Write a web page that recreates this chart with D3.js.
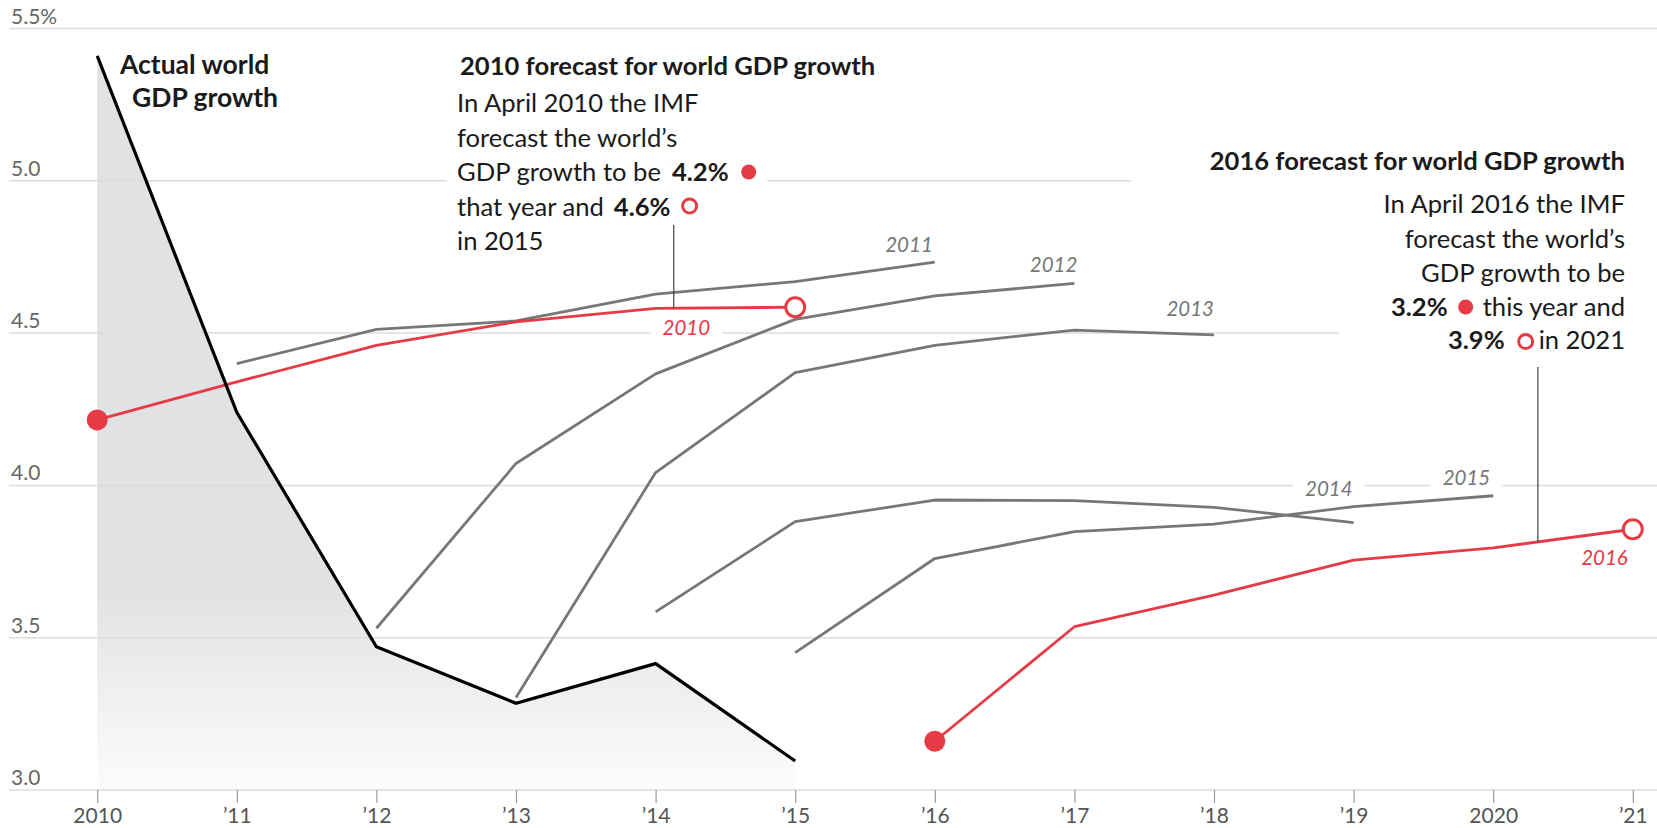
<!DOCTYPE html>
<html>
<head>
<meta charset="utf-8">
<script src="https://cdn.jsdelivr.net/npm/d3@7"></script>
<style>
  html, body { margin: 0; padding: 0; background: #fff; }
  svg { display: block; font-family: Lato, "Open Sans", sans-serif; }
</style>
</head>
<body>
<svg id="chart" width="1657" height="828"></svg>
<script>
// ---- data -------------------------------------------------------------
const years = [2010, 2011, 2012, 2013, 2014, 2015, 2016, 2017, 2018, 2019, 2020, 2021];
const yearTickLabels = ["2010", "\u201911", "\u201912", "\u201913", "\u201914", "\u201915",
                        "\u201916", "\u201917", "\u201918", "\u201919", "2020", "\u201921"];
const yTicks = [3.0, 3.5, 4.0, 4.5, 5.0, 5.5];
const yTickLabels = ["3.0", "3.5", "4.0", "4.5", "5.0", "5.5%"];

// Actual world GDP growth, %
const actualYears = [2010, 2011, 2012, 2013, 2014, 2015];
const actualGrowth = [5.41, 4.24, 3.47, 3.285, 3.415, 3.095];

// IMF April forecasts, one per vintage, each covering six years from its vintage year
const forecastVintages = [2010, 2011, 2012, 2013, 2014, 2015, 2016];
const forecast2010 = [4.215, 4.34, 4.46, 4.537, 4.581, 4.585];
const forecast2011 = [4.40, 4.512, 4.54, 4.628, 4.669, 4.733];
const forecast2012 = [3.531, 4.072, 4.366, 4.545, 4.622, 4.663];
const forecast2013 = [3.304, 4.042, 4.37, 4.46, 4.51, 4.494];
const forecast2014 = [3.585, 3.881, 3.952, 3.95, 3.928, 3.878];
const forecast2015 = [3.451, 3.76, 3.848, 3.873, 3.93, 3.966];
const forecast2016 = [3.16, 3.536, 3.64, 3.755, 3.795, 3.856];
const forecastValues = [forecast2010, forecast2011, forecast2012, forecast2013,
                        forecast2014, forecast2015, forecast2016];
const highlightedVintages = [2010, 2016];

// ---- layout -------------------------------------------------------------
const W = 1657, H = 828;
const RED = "#e63a45", GREY = "#777", INK = "#1a1a1a";
const x = d3.scaleLinear().domain([2010, 2021]).range([97.2, 1632.8]);
const y = d3.scaleLinear().domain([3, 5.5]).range([790, 28.5]);
const pct = v => d3.format(".1f")(v) + "%";

// horizontal extent of each gridline (pixel segments)
const gridSegments = {
  "5": [[9, 447], [767, 1131]],
  "4.5": [[9, 1339]]
};
// vintage label offsets from the last point of each line
const vintageLabelPos = {
  2011: { dx: -2, dy: -10, anchor: "end" },
  2012: { dx: 3, dy: -11, anchor: "end" },
  2013: { dx: 0, dy: -19, anchor: "end" },
  2014: { dx: -1, dy: -27, anchor: "end" },
  2015: { dx: -3, dy: -11, anchor: "end" },
  2016: { dx: -5, dy: 36, anchor: "end" }
};

const svg = d3.select("#chart");
svg.append("rect").attr("width", W).attr("height", H).attr("fill", "#fff");

const series = forecastVintages.map((v, i) => ({
  vintage: v,
  points: forecastValues[i].map((val, j) => ({ year: v + j, value: val }))
}));
const actual = actualYears.map((yr, i) => ({ year: yr, value: actualGrowth[i] }));

// ---- shaded area under actual growth ---------------------------------
const defs = svg.append("defs");
const grad = defs.append("linearGradient").attr("id", "actualFill")
  .attr("gradientUnits", "userSpaceOnUse")
  .attr("x1", 0).attr("x2", 0).attr("y1", y(3.65)).attr("y2", y(3.0));
grad.append("stop").attr("offset", 0).attr("stop-color", "#e1e2e4");
grad.append("stop").attr("offset", 1).attr("stop-color", "#fcfcfc");

svg.append("path").datum(actual)
  .attr("fill", "url(#actualFill)")
  .attr("d", d3.area().x(d => x(d.year)).y0(y(3)).y1(d => y(d.value)));

// ---- gridlines & y labels ---------------------------------------------
const grid = svg.append("g");
yTicks.forEach((t, i) => {
  const segs = gridSegments[String(t)] || [[9, W]];
  segs.forEach(s => {
    grid.append("line")
      .attr("x1", s[0]).attr("x2", s[1])
      .attr("y1", y(t)).attr("y2", y(t))
      .attr("stroke", "#dcdcdc").attr("stroke-width", 1.5);
  });
  grid.append("text")
    .attr("x", 11).attr("y", y(t) - 5)
    .attr("font-size", 21).attr("fill", "#666")
    .text(yTickLabels[i]);
});

// ---- x axis ---------------------------------------------------------------
const xAxis = svg.append("g").attr("transform", `translate(0,${y(3)})`)
  .call(d3.axisBottom(x).tickValues(years)
    .tickFormat((d, i) => yearTickLabels[i]).tickSize(13).tickPadding(5));
xAxis.select(".domain").remove();
xAxis.selectAll(".tick line").attr("stroke", "#999").attr("stroke-width", 1.2);
xAxis.selectAll(".tick text").attr("font-size", 21).attr("fill", "#555")
  .attr("font-family", "Lato, sans-serif");

// ---- vintage labels (white knockouts first, text later) -------------------
const labelLayer = [];
series.forEach(s => {
  const pos = vintageLabelPos[s.vintage];
  if (!pos) return;
  const last = s.points[s.points.length - 1];
  labelLayer.push({
    text: String(s.vintage),
    x: x(last.year) + pos.dx, y: y(last.value) + pos.dy, anchor: pos.anchor,
    color: highlightedVintages.includes(s.vintage) ? RED : GREY
  });
});
// the 2010 label sits below its line, next to the leader
{
  const s = series[0];
  const a = s.points[4], b = s.points[5];
  const yr = 2014.22;
  const v = a.value + (b.value - a.value) * (yr - a.year);
  labelLayer.push({ text: "2010", x: x(yr), y: y(v) + 27, anchor: "middle", color: RED });
}
const knockG = svg.append("g");
const labelG = svg.append("g");

// ---- forecast lines --------------------------------------------------------
const line = d3.line().x(d => x(d.year)).y(d => y(d.value));
const linesG = svg.append("g").attr("fill", "none").attr("stroke-linejoin", "round");
series.filter(s => !highlightedVintages.includes(s.vintage)).forEach(s => {
  linesG.append("path").datum(s.points).attr("d", line)
    .attr("stroke", GREY).attr("stroke-width", 2.8);
});
series.filter(s => highlightedVintages.includes(s.vintage)).forEach(s => {
  linesG.append("path").datum(s.points).attr("d", line)
    .attr("stroke", RED).attr("stroke-width", 2.8);
});
svg.append("path").datum(actual).attr("d", line)
  .attr("fill", "none").attr("stroke", "#000").attr("stroke-width", 3.2)
  .attr("stroke-linejoin", "miter");

// start (filled) and end (open) markers of highlighted forecasts
series.filter(s => highlightedVintages.includes(s.vintage)).forEach(s => {
  const first = s.points[0], last = s.points[s.points.length - 1];
  svg.append("circle").attr("cx", x(first.year)).attr("cy", y(first.value))
    .attr("r", 10.5).attr("fill", RED);
  svg.append("circle").attr("cx", x(last.year)).attr("cy", y(last.value))
    .attr("r", 9.5).attr("fill", "#fff").attr("stroke", RED).attr("stroke-width", 3);
});

labelLayer.forEach(l => {
  const t = labelG.append("text")
    .attr("x", l.x).attr("y", l.y).attr("text-anchor", l.anchor)
    .attr("font-size", 20.5).attr("font-style", "italic").attr("fill", l.color)
    .text(l.text);
  const bb = t.node().getBBox();
  knockG.append("rect").attr("x", bb.x - 12).attr("y", bb.y)
    .attr("width", bb.width + 24).attr("height", bb.height).attr("fill", "#fff");
});

// ---- annotations -------------------------------------------------------
const ann = svg.append("g").attr("fill", INK);
const BODY = 25.6, HEAD = 25.6;

function txt(g, xx, yy, s, opts = {}) {
  return g.append("text").attr("x", xx).attr("y", yy)
    .attr("font-size", opts.size || BODY)
    .attr("font-weight", opts.bold ? 700 : 400)
    .attr("text-anchor", opts.anchor || "start")
    .attr("fill", opts.color || INK)
    .text(s);
}
const width = node => node.node().getComputedTextLength();

// actual growth label
txt(ann, 120, 74, "Actual world", { bold: true, size: 26.5 });
txt(ann, 132, 107, "GDP growth", { bold: true, size: 26.5 });

// 2010 forecast block, left aligned
{
  const f = series[0].points;
  const X0 = 457;
  txt(ann, X0 + 3, 75, "2010 forecast for world GDP growth", { bold: true, size: HEAD });
  txt(ann, X0, 112, "In April 2010 the IMF");
  txt(ann, X0, 146.5, "forecast the world\u2019s");
  const l3 = txt(ann, X0, 181, "GDP growth to be");
  const b3x = X0 + width(l3) + 11;
  const b3 = txt(ann, b3x, 181, pct(f[0].value), { bold: true });
  ann.append("circle").attr("cx", b3x + width(b3) + 20).attr("cy", 172)
    .attr("r", 7.5).attr("fill", RED);
  const l4 = txt(ann, X0, 215.5, "that year and");
  const b4x = X0 + width(l4) + 10;
  const b4 = txt(ann, b4x, 215.5, pct(f[f.length - 1].value), { bold: true });
  ann.append("circle").attr("cx", b4x + width(b4) + 19).attr("cy", 206)
    .attr("r", 7).attr("fill", "#fff").attr("stroke", RED).attr("stroke-width", 3);
  txt(ann, X0, 250, "in 2015");

  // leader down to the forecast line
  const yr = 2014.13;
  const v = f[4].value + (f[5].value - f[4].value) * (yr - f[4].year);
  ann.append("line").attr("x1", x(yr)).attr("x2", x(yr))
    .attr("y1", 225).attr("y2", y(v))
    .attr("stroke", "#444").attr("stroke-width", 1.2);
}

// 2016 forecast block, right aligned
{
  const f = series[6].points;
  const X1 = 1625;
  txt(ann, X1, 170, "2016 forecast for world GDP growth", { bold: true, size: HEAD, anchor: "end" });
  txt(ann, X1, 213, "In April 2016 the IMF", { anchor: "end" });
  txt(ann, X1, 247.5, "forecast the world\u2019s", { anchor: "end" });
  txt(ann, X1, 282, "GDP growth to be", { anchor: "end" });
  const l4 = txt(ann, X1, 315.5, "this year and", { anchor: "end" });
  const d4 = X1 - width(l4) - 17;
  ann.append("circle").attr("cx", d4).attr("cy", 307).attr("r", 7.5).attr("fill", RED);
  txt(ann, d4 - 18, 315.5, pct(f[0].value), { bold: true, anchor: "end" });
  const l5 = txt(ann, X1, 349, "in 2021", { anchor: "end" });
  const d5 = X1 - width(l5) - 13;
  ann.append("circle").attr("cx", d5).attr("cy", 341.5).attr("r", 7)
    .attr("fill", "#fff").attr("stroke", RED).attr("stroke-width", 3);
  txt(ann, d5 - 21, 349, pct(f[f.length - 1].value), { bold: true, anchor: "end" });

  const yr = 2020.32;
  const v = f[4].value + (f[5].value - f[4].value) * (yr - f[4].year);
  ann.append("line").attr("x1", x(yr)).attr("x2", x(yr))
    .attr("y1", 367).attr("y2", y(v))
    .attr("stroke", "#444").attr("stroke-width", 1.2);
}
</script>
</body>
</html>
